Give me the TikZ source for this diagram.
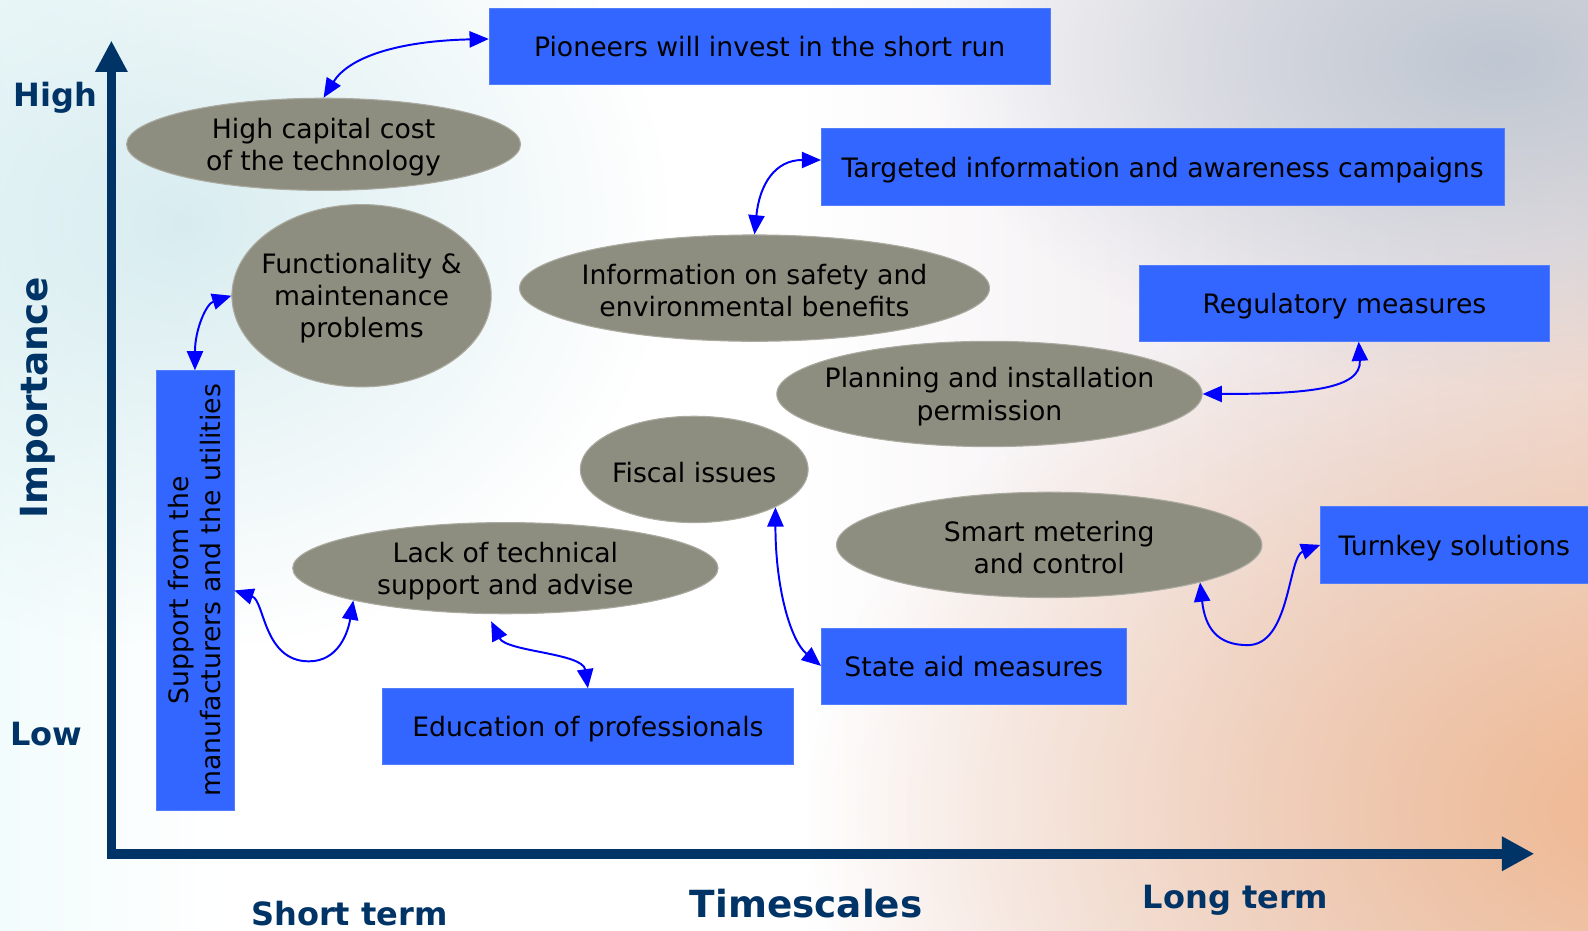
\documentclass[tikz,border=0pt]{standalone}
\usepackage{fontspec}
\setmainfont{DejaVu Sans}
\usetikzlibrary{arrows.meta,shapes.geometric,fadings}
\definecolor{Navy}{HTML}{003366}
\definecolor{Action}{HTML}{3366FF}
\definecolor{Stone}{HTML}{8E8E80}
\definecolor{Link}{HTML}{0000FF}
\definecolor{Ice}{HTML}{CFE8EC}
\definecolor{Frost}{HTML}{E2F7F8}
\definecolor{Mist}{HTML}{EEE8EC}
\definecolor{Sand}{HTML}{F1D2BE}
\definecolor{Peach}{HTML}{EFB892}
\definecolor{Slate}{HTML}{BFC7D2}
% soft backdrop: cool on the left, warm on the right
\pgfdeclarehorizontalshading{backdrop}{100bp}{color(0bp)=(Ice); color(16bp)=(Frost); color(32bp)=(white); color(50bp)=(white); color(68bp)=(Mist); color(100bp)=(Sand)}
\tikzfading[name=glow, inner color=transparent!0, outer color=transparent!100]

\tikzset{
  boxsize/.style 2 args={minimum width=#1*0.02cm, minimum height=#2*0.02cm},
  action/.style={fill=Action, draw=Action!85!white, line width=0.4pt, inner sep=0pt,
    text depth=0pt, font=\fontsize{15}{18}\selectfont},
  issue/.style={ellipse, fill=Stone, draw=Stone!75!white, line width=0.6pt, inner sep=0pt},
  issuetext/.style={align=center, yshift=-1.5pt, font=\fontsize{15}{18}\selectfont},
  link/.style={Link, line width=1.1pt,
    {Triangle[length=0.38cm,width=0.32cm]}-{Triangle[length=0.38cm,width=0.32cm]}},
  axis/.style={Navy, line width=0.19cm, line join=miter},
  axislabel/.style={text=Navy, font=\bfseries\fontsize{18}{20}\selectfont},
}

\begin{document}
\begin{tikzpicture}[x=0.02cm,y=-0.02cm]
  \useasboundingbox (0,0) rectangle (1568,919);
  \shade[shading=backdrop] (0,0) rectangle (1568,919);
  \fill[Ice, path fading=glow, opacity=0.8] (180,220) ellipse (480 and 420);
  \fill[Slate, path fading=glow] (1480,60) ellipse (560 and 320);
  \fill[Peach, path fading=glow] (1620,800) ellipse (820 and 560);

  % axes
  \coordinate (ytop) at (110,40);
  \coordinate (origin) at (110,843);
  \coordinate (xend) at (1515,843);
  \draw[axis, {Triangle[length=0.62cm,width=0.6cm]}-{Triangle[length=0.64cm,width=0.64cm]}]
    (ytop) -- (origin) -- (xend);
  \node[axislabel] (high) at (55,97) {High};
  \node[axislabel] (low) at (46,725) {Low};
  \node[axislabel, rotate=90, font=\bfseries\fontsize{21}{23}\selectfont] (importance) at (37,393) {Importance};
  \node[axislabel] (short) at (345,902) {Short term};
  \node[axislabel, font=\bfseries\fontsize{21}{24}\selectfont] (timescales) at (796,892) {Timescales};
  \node[axislabel] (long) at (1220,889) {Long term};

  % measures
  \node[action, boxsize={554}{75}] (pioneers) at (760,45.5) {Pioneers will invest in the short run};
  \node[action, boxsize={674}{76}] (targeted) at (1148,165) {Targeted information and awareness campaigns};
  \node[action, boxsize={405}{75}] (regulatory) at (1327.5,299.5) {Regulatory measures};
  \node[action, boxsize={264}{76}] (turnkey) at (1436,538) {Turnkey solutions};
  \node[action, boxsize={301}{75}] (stateaid) at (961.5,657.5) {State aid measures};
  \node[action, boxsize={405}{75}] (education) at (580.5,717.5) {Education of professionals};
  \node[action, boxsize={434}{77}, rotate=90, align=center, text depth=] (support) at (192.5,583)
    {Support from the\\manufacturers and the utilities};

  % barriers
  \node[issue, boxsize={389}{91}, label={[issuetext]center:High capital cost\\of the technology}] (capital) at (319.5,142.5) {};
  \node[issue, boxsize={256}{180}, label={[issuetext]center:Functionality \&\\maintenance\\problems}] (function) at (357,292) {};
  \node[issue, boxsize={464}{105}, label={[issuetext]center:Information on safety and\\environmental benefits}] (safety) at (745,284.5) {};
  \node[issue, boxsize={420}{104}, label={[issuetext]center:Planning and installation\\permission}] (planning) at (977,389) {};
  \node[issue, boxsize={225}{105}, label={[issuetext]center:Fiscal issues}] (fiscal) at (685.5,463.5) {};
  \node[issue, boxsize={420}{90}, label={[issuetext]center:Lack of technical\\support and advise}] (lack) at (499,561) {};
  \node[issue, boxsize={420}{104}, label={[issuetext]center:Smart metering\\and control}] (smart) at (1036,538) {};

  % links between barriers and measures
  \coordinate (dip) at (1232,637);
  \draw[link] (capital.north) .. controls +(25,-40) and +(-90,2) .. ([yshift=4pt]pioneers.west);
  \draw[link] ([yshift=4pt]targeted.west) .. controls +(-45,0) and +(5,-50) .. (safety.north);
  \draw[link] ([xshift=8pt]regulatory.south) .. controls +(3,47) and +(103,0) .. (planning.east);
  \draw[link] (function.west) .. controls +(-25,8) and +(0,-40) .. (support.east);
  \draw[link] (support.south) .. controls +(30,10) and +(-45,0) .. (305,653)
    .. controls +(30,0) and +(-5,30) .. (lack.192);
  \draw[link] ([xshift=-8pt,yshift=-4pt]lack.south) .. controls +(15,30) and +(-5,-35) .. (education.north);
  \draw[link] (fiscal.-25) .. controls +(0,80) and +(-30,-25) .. (stateaid.west);
  \draw[link] (smart.-14) .. controls +(5,45) and +(-30,0) .. (dip)
    .. controls +(42,0) and +(-32,12) .. (turnkey.west);
\end{tikzpicture}
\end{document}
